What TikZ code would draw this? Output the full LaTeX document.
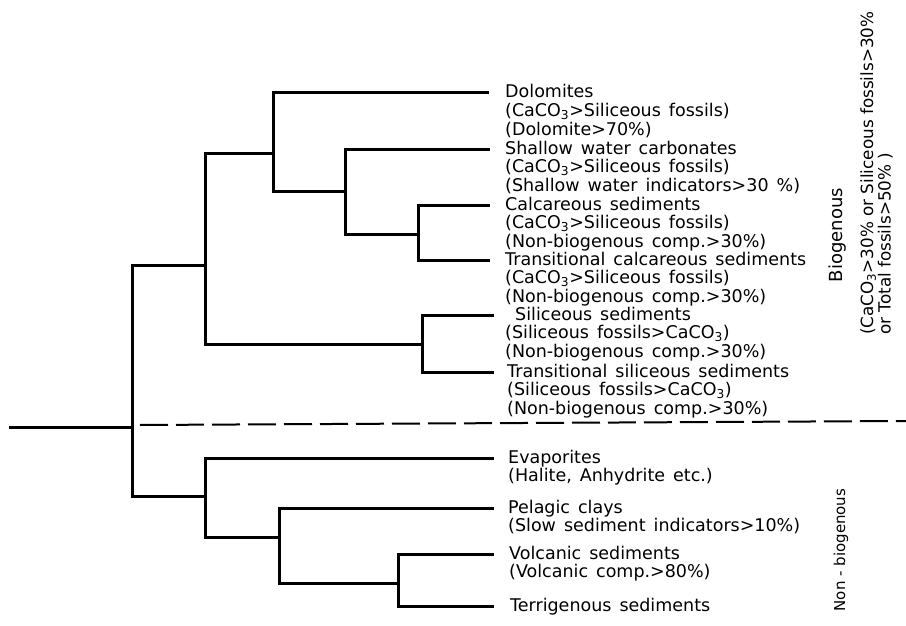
\documentclass[tikz,border=0pt]{standalone}
\usepackage{fontspec}
\setmainfont{DejaVu Sans}
% wider gaps between words, as in the lettering of the labels
\newcommand\widewords{\spaceskip=8pt plus 1pt\relax}
\begin{document}
\begin{tikzpicture}[x=1pt,y=-1pt,
  branch/.style={line width=3pt, line cap=rect, line join=miter},
  divider/.style={line width=2pt, dash pattern=on 28pt off 8pt},
  leaf/.style={anchor=base west, inner sep=0pt, font=\fontsize{17.5}{18.5}\selectfont\widewords},
  group/.style={rotate=90, inner sep=0pt, font=\fontsize{18}{17}\selectfont}]
\useasboundingbox (0,0) rectangle (906,626);

% ends of the terminal branches
\coordinate (dol) at (487,93);
\coordinate (sha) at (488,149);
\coordinate (cal) at (488,205);
\coordinate (tca) at (488,260);
\coordinate (sil) at (492,315);
\coordinate (tsi) at (492,372);
\coordinate (eva) at (492,458);
\coordinate (pel) at (492,508);
\coordinate (vol) at (492,554);
\coordinate (ter) at (492,606);

% junctions
\coordinate (n1) at (418,234);
\coordinate (n2) at (345,191);
\coordinate (n3) at (273,153);
\coordinate (n4) at (422,344);
\coordinate (n5) at (205,265);
\coordinate (n6) at (398,583);
\coordinate (n7) at (279,537);
\coordinate (n8) at (205,496);
\coordinate (root) at (132,427);
\coordinate (stem) at (10,427);

% dendrogram
\draw[branch] (cal) -| (n1) |- (tca);
\draw[branch] (sha) -| (n2) |- (n1);
\draw[branch] (dol) -| (n3) |- (n2);
\draw[branch] (sil) -| (n4) |- (tsi);
\draw[branch] (n3) -| (n5) |- (n4);
\draw[branch] (n5) -| (root) |- (n8);
\draw[branch] (eva) -| (n8) |- (n7);
\draw[branch] (pel) -| (n7) |- (n6);
\draw[branch] (vol) -| (n6) |- (ter);
\draw[branch] (stem) -- (root);

% boundary between the two main groups
\coordinate (dl) at (140,425);
\coordinate (dr) at (906,421);
\draw[divider] (dl) -- (dr);

% sediment types
\node[leaf] (Ldol) at (505,98) {\begin{tabular}[t]{@{}l@{}}Dolomites\\(CaCO\textsubscript{3}>Siliceous fossils)\\(Dolomite>70\%)\end{tabular}};
\node[leaf] (Lsha) at (505,154) {\begin{tabular}[t]{@{}l@{}}Shallow water carbonates\\(CaCO\textsubscript{3}>Siliceous fossils)\\(Shallow water indicators>30 \%)\end{tabular}};
\node[leaf] (Lcal) at (505,210) {\begin{tabular}[t]{@{}l@{}}Calcareous sediments\\(CaCO\textsubscript{3}>Siliceous fossils)\\(Non-biogenous comp.>30\%)\end{tabular}};
\node[leaf] (Ltca) at (505,265) {\begin{tabular}[t]{@{}l@{}}Transitional calcareous sediments\\(CaCO\textsubscript{3}>Siliceous fossils)\\(Non-biogenous comp.>30\%)\end{tabular}};
\node[leaf] (Lsil) at (505,320) {\begin{tabular}[t]{@{}l@{}}\hspace{10pt}Siliceous sediments\\(Siliceous fossils>CaCO\textsubscript{3})\\(Non-biogenous comp.>30\%)\end{tabular}};
\node[leaf] (Ltsi) at (507,377) {\begin{tabular}[t]{@{}l@{}}Transitional siliceous sediments\\(Siliceous fossils>CaCO\textsubscript{3})\\(Non-biogenous comp.>30\%)\end{tabular}};
\node[leaf] (Leva) at (508,463) {\begin{tabular}[t]{@{}l@{}}Evaporites\\(Halite, Anhydrite etc.)\end{tabular}};
\node[leaf] (Lpel) at (508,513) {\begin{tabular}[t]{@{}l@{}}Pelagic clays\\(Slow sediment indicators>10\%)\end{tabular}};
\node[leaf] (Lvol) at (509,559) {\begin{tabular}[t]{@{}l@{}}Volcanic sediments\\(Volcanic comp.>80\%)\end{tabular}};
\node[leaf] (Lter) at (510,611) {Terrigenous sediments};

% group headings
\node[group] (bio) at (838,235) {Biogenous};
\node[group, anchor=base west, font=\fontsize{16.8}{16}\selectfont] (crit) at (873,335) {\begin{tabular}[t]{@{}l@{}}(CaCO\textsubscript{3}>30\% or Siliceous fossils>30\%\\or Total fossils>50\% )\end{tabular}};
\node[group, font=\fontsize{15}{16}\selectfont] (nonbio) at (841,550) {Non - biogenous};
\end{tikzpicture}
\end{document}
